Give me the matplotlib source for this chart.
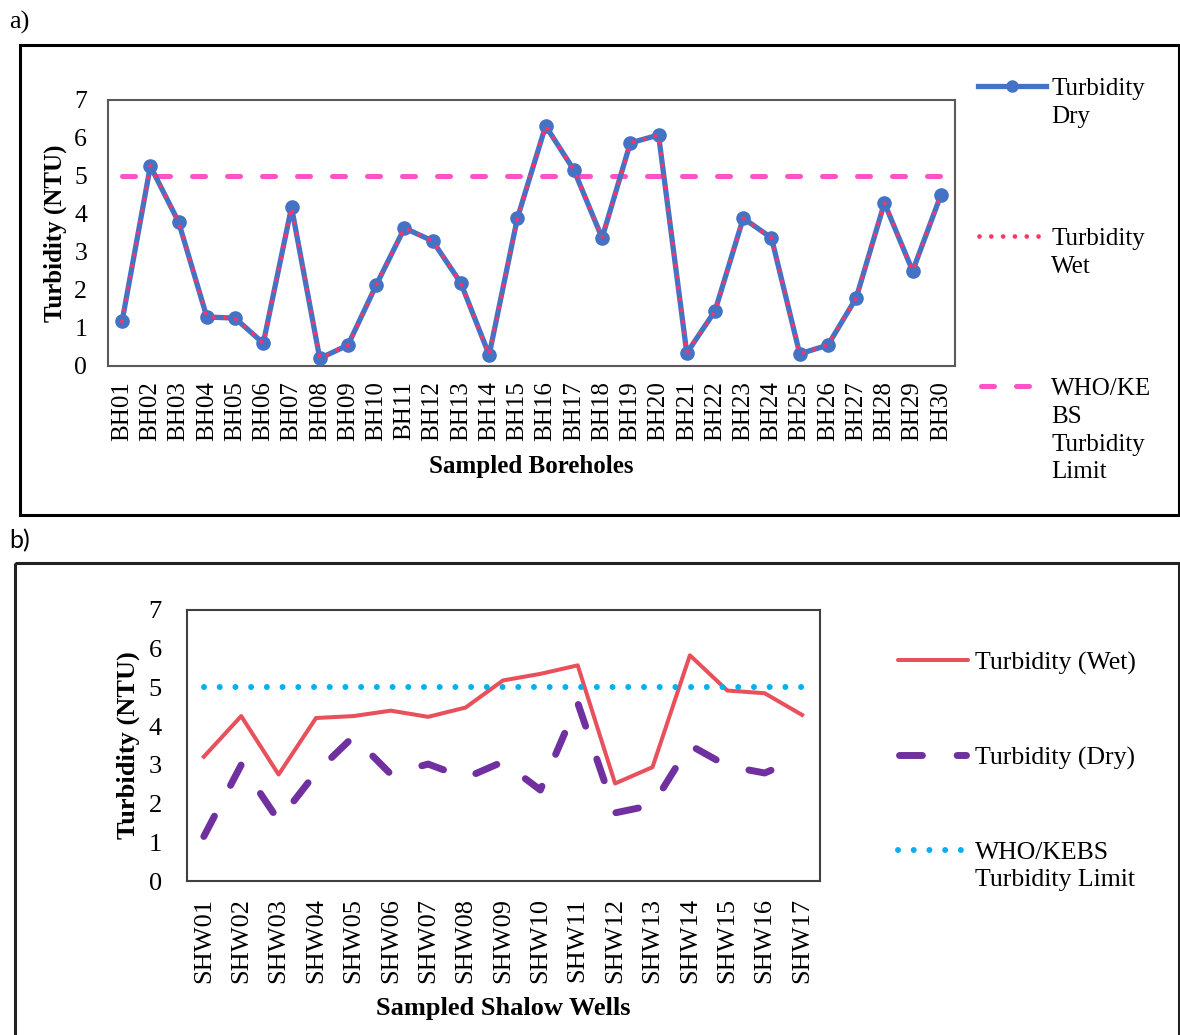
import matplotlib.pyplot as plt
from matplotlib.patches import Rectangle

plt.rcParams['font.family'] = ['Liberation Serif', 'DejaVu Serif']

# ---- data: panel a (boreholes) ----
boreholes = ['BH%02d' % i for i in range(1, 31)]
bh_dry = [1.18, 5.26, 3.79, 1.29, 1.26, 0.60, 4.18, 0.20, 0.55, 2.13,
          3.63, 3.29, 2.18, 0.29, 3.89, 6.32, 5.16, 3.37, 5.87, 6.08,
          0.34, 1.45, 3.89, 3.37, 0.32, 0.55, 1.79, 4.29, 2.50, 4.50]
bh_wet = [1.18, 5.26, 3.79, 1.29, 1.26, 0.60, 4.18, 0.20, 0.55, 2.13,
          3.63, 3.29, 2.18, 0.29, 3.89, 6.32, 5.16, 3.37, 5.87, 6.08,
          0.34, 1.45, 3.89, 3.37, 0.32, 0.55, 1.79, 4.29, 2.50, 4.50]

# ---- data: panel b (shallow wells) ----
wells = ['SHW%02d' % i for i in range(1, 18)]
shw_wet = [3.21, 4.26, 2.75, 4.21, 4.26, 4.40, 4.24, 4.48, 5.18, 5.35,
           5.57, 2.52, 2.94, 5.83, 4.92, 4.85, 4.29]
shw_dry = [1.15, 3.00, 1.56, 2.80, 3.73, 2.76, 3.02, 2.66, 3.08, 2.35,
           4.60, 1.76, 1.96, 3.51, 2.97, 2.79, 3.20]

who_limit = 5
yticks = [0, 1, 2, 3, 4, 5, 6, 7]

W, H = 1180, 1035
fig = plt.figure(figsize=(W / 100, H / 100), dpi=100)

blue = '#4472C4'
wet_a = '#FF3366'
lim_a = '#FF52C6'
wet_b = '#E8505B'
dry_b = '#7030A0'
lim_b = '#00B0F0'

# ---- panel a ----
ax = fig.add_axes([108 / W, 1 - 366 / H, 847 / W, 266 / H])
xa = list(range(len(boreholes)))
ax.plot(xa, [who_limit] * len(xa), color=lim_a, lw=3.6, dashes=(2.6, 4.4),
        dash_capstyle='round', zorder=2)
ax.plot(xa, bh_dry, color=blue, lw=3.8, marker='o', ms=9.5, zorder=3)
ax.plot(xa, bh_wet, color=wet_a, lw=3.0, dashes=(0.001, 2.7),
        dash_capstyle='round', zorder=4)
ax.set_xlim(-0.5, 29.5)
ax.set_ylim(0, 7)
ax.set_yticks(yticks)
ax.set_xticks(xa)
ax.set_xticklabels(boreholes, rotation=90, fontsize=18)
ax.tick_params(axis='y', length=0, pad=15, labelsize=18.5)
ax.tick_params(axis='x', length=0, pad=11)
for s in ax.spines.values():
    s.set_color('#595959')
    s.set_linewidth(1.5)
ax.set_xlabel('Sampled Boreholes', fontsize=18, fontweight='bold')
ax.xaxis.label.set_va('center')
ax.xaxis.set_label_coords(0.5, (366 - 467) / 266)
ax.set_ylabel('Turbidity (NTU)', fontsize=18, fontweight='bold')
ax.yaxis.label.set_va('center')
ax.yaxis.set_label_coords((55 - 108) / 847, 0.5)

# ---- panel b ----
bx = fig.add_axes([187 / W, 1 - 881 / H, 633 / W, 271 / H])
xb = list(range(len(wells)))
bx.plot(xb, shw_wet, color=wet_b, lw=2.9, zorder=3)
bx.plot(xb, shw_dry, color=dry_b, lw=5, dashes=(3.3, 5.0),
        dash_capstyle='round', zorder=2)
bx.plot(xb, [who_limit] * len(xb), color=lim_b, lw=4.3, dashes=(0.001, 2.63),
        dash_capstyle='round', zorder=4)
bx.set_xlim(-0.45, 16.48)
bx.set_ylim(0, 7)
bx.set_yticks(yticks)
bx.set_xticks(xb)
bx.set_xticklabels(wells, rotation=90, fontsize=19)
bx.tick_params(axis='y', length=0, pad=18, labelsize=19)
bx.tick_params(axis='x', length=0, pad=12)
for s in bx.spines.values():
    s.set_color('#404040')
    s.set_linewidth(1.5)
bx.set_xlabel('Sampled Shalow Wells', fontsize=19, fontweight='bold')
bx.xaxis.label.set_va('center')
bx.xaxis.set_label_coords(0.5, (881 - 1009) / 271)
bx.set_ylabel('Turbidity (NTU)', fontsize=19, fontweight='bold')
bx.yaxis.label.set_va('center')
bx.yaxis.set_label_coords((128 - 187) / 633, 0.5)

# ---- frames, panel letters and legends (drawn in a pixel-space overlay) ----
ov = fig.add_axes([0, 0, 1, 1], zorder=-1)
ov.set_xlim(0, W)
ov.set_ylim(H, 0)
ov.axis('off')
ov.add_patch(Rectangle((20, 45), 1159, 470, fill=False, lw=2.2, ec='black'))
ov.add_patch(Rectangle((15, 563), 1164, 500, fill=False, lw=2.2, ec='#222222'))
ov.text(9, 22, 'a)', fontsize=19, va='center', ha='left')
ov.text(9, 541, 'b)', fontsize=18, va='center', ha='left', family=['Lato', 'DejaVu Sans'])

# legend a
ov.plot([978, 1046], [86, 86], color=blue, lw=3.8)
ov.plot([1012], [86], color=blue, marker='o', ms=8)
ov.plot([979, 1046], [236, 236], color=wet_a, lw=3.4, dashes=(0.001, 2.5),
        dash_capstyle='round')
ov.plot([981, 1042], [386, 386], color=lim_a, lw=3.6, dashes=(2.6, 4.4),
        dash_capstyle='round')
for y, lab in [(86, 'Turbidity\nDry'), (236, 'Turbidity\nWet'),
               (386, 'WHO/KE\nBS\nTurbidity\nLimit')]:
    ov.text(1051, y - 8, lab, fontsize=18, va='top', ha='left', linespacing=1.34)

# legend b
ov.plot([898, 968], [660, 660], color=wet_b, lw=2.9, solid_capstyle='round')
ov.plot([899, 966], [755, 755], color=dry_b, lw=5, dashes=(3.3, 5.0),
        dash_capstyle='round')
ov.plot([898, 966], [850, 850], color=lim_b, lw=4.3, dashes=(0.001, 2.63),
        dash_capstyle='round')
for y, lab in [(660, 'Turbidity (Wet)'), (755, 'Turbidity (Dry)'),
               (850, 'WHO/KEBS\nTurbidity Limit')]:
    ov.text(975, y - 8, lab, fontsize=18.5, va='top', ha='left', linespacing=1.3)

fig.savefig('out.png', dpi=100)
